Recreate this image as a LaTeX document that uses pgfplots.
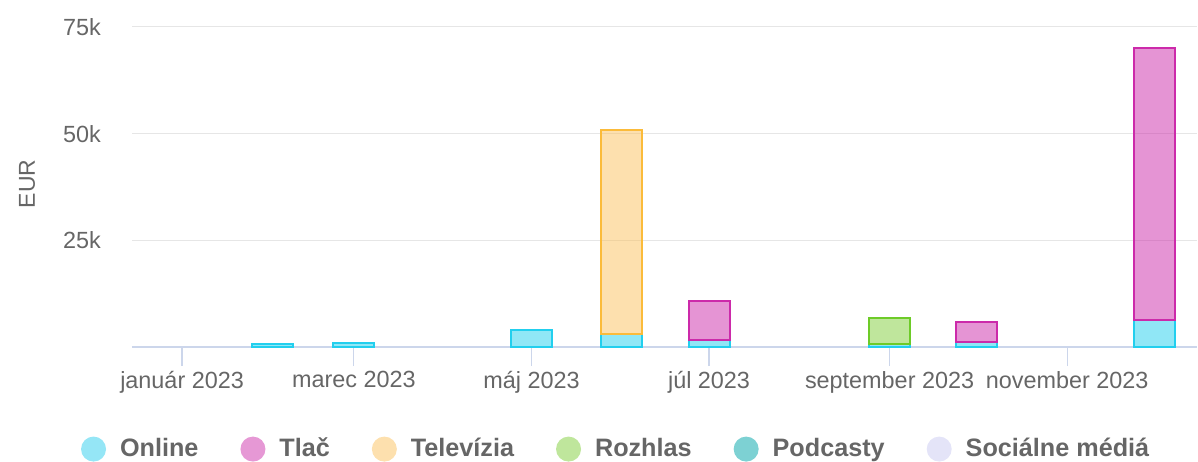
\documentclass[border=0pt]{standalone}
\usepackage{pgfplots}
\pgfplotsset{compat=1.18}
\usepackage{fontspec}
\setmainfont{Liberation Sans}
\definecolor{gridc}{HTML}{E6E6E6}
\definecolor{axisc}{HTML}{CCD6EB}
\definecolor{textc}{HTML}{666666}
\definecolor{onlineB}{HTML}{22CFEE}
\definecolor{tlacB}{HTML}{CC2AAA}
\definecolor{tvB}{HTML}{FBBB3A}
\definecolor{tvF}{HTML}{FBC15D}
\definecolor{rozB}{HTML}{6DCB28}
\definecolor{rozF}{HTML}{7FCD39}
\definecolor{onlineL}{HTML}{95E6F6}
\definecolor{tlacL}{HTML}{E698D5}
\definecolor{tvL}{HTML}{FDE0AE}
\definecolor{rozL}{HTML}{BFE69C}
\definecolor{podL}{HTML}{7DD1D3}
\definecolor{socL}{HTML}{E4E4F8}
% x = day of year 2023 (0 = 1 Jan); bars sit at the first day of each month
\pgfplotsset{
  common/.style={at={(0,0)}, anchor=south west, width=532.5pt, height=160pt,
    scale only axis, xmin=-17.2, xmax=348.6, ymin=0, ymax=75000,
    ybar stacked, bar width=20.5pt},
  leg/.style={legend image code/.code={\fill[#1, draw=none] (6.25pt,0) circle (6.25pt);\path[draw=none] (0,0) -- (17.5pt,0);}},
}
\begin{document}
\begin{tikzpicture}
\path[use as bounding box] (-66pt,-57pt) rectangle (533pt,173.5pt);
% Online (base)
\begin{axis}[common,
  axis x line*=bottom, axis y line*=left,
  y axis line style={draw=none}, x axis line style={axisc, line width=0.6pt},
  xtick={0,59,120,181,243,304},
  xticklabels={január 2023, marec 2023, máj 2023, júl 2023, september 2023, november 2023},
  ytick={25000,50000,75000}, yticklabels={25k,50k,75k},
  scaled y ticks=false,
  ymajorgrids, grid style={gridc, line width=0.5pt},
  xtick align=outside, major tick length=9.5pt,
  xtick style={axisc, line width=0.6pt}, ytick style={draw=none},
  tick label style={font=\fontsize{11.7}{13}\selectfont, text=textc},
  xticklabel style={yshift=1pt},
  yticklabel style={xshift=-12pt},
  ylabel={EUR}, ylabel style={at={(axis description cs:-0.0985,0.51)}, anchor=center, font=\fontsize{11.5}{13}\selectfont, text=textc},
  legend style={at={(axis description cs:0.4555,-0.319)}, anchor=center, draw=none, fill=none,
    legend columns=6, font=\bfseries\fontsize{12.6}{14}\selectfont, text=textc,
    /tikz/every even column/.append style={column sep=19pt}},
  legend cell align=left,
]
\addplot[draw=onlineB, fill=onlineB, fill opacity=0.5, line width=1pt, forget plot]
  coordinates {(31,600) (59,950) (120,4000) (151,3100) (181,1700) (243,800) (273,1200) (334,6300)};
\addlegendimage{leg=onlineL}\addlegendentry{Online}
\addlegendimage{leg=tlacL}\addlegendentry{Tlač}
\addlegendimage{leg=tvL}\addlegendentry{Televízia}
\addlegendimage{leg=rozL}\addlegendentry{Rozhlas}
\addlegendimage{leg=podL}\addlegendentry{Podcasty}
\addlegendimage{leg=socL}\addlegendentry{Sociálne médiá}
\end{axis}
% Tlac
\begin{axis}[common, hide axis]
\addplot[draw=none, fill=none] coordinates {(181,1700) (273,1200) (334,6300)};
\addplot[draw=tlacB, fill=tlacB, fill opacity=0.5, line width=1pt]
  coordinates {(181,9100) (273,4700) (334,63800)};
\end{axis}
% Televizia
\begin{axis}[common, hide axis]
\addplot[draw=none, fill=none] coordinates {(151,3100)};
\addplot[draw=tvB, fill=tvF, fill opacity=0.5, line width=1pt]
  coordinates {(151,47750)};
\end{axis}
% Rozhlas
\begin{axis}[common, hide axis]
\addplot[draw=none, fill=none] coordinates {(243,800)};
\addplot[draw=rozB, fill=rozF, fill opacity=0.5, line width=1pt]
  coordinates {(243,6100)};
\end{axis}
\end{tikzpicture}
\end{document}
